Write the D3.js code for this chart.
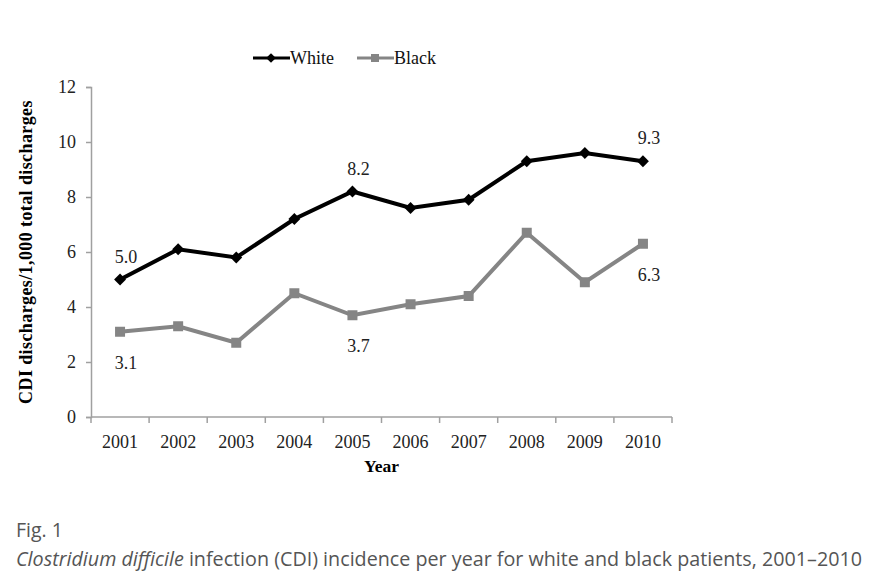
<!DOCTYPE html>
<html>
<head>
<meta charset="utf-8">
<script src="https://cdn.jsdelivr.net/npm/d3@7"></script>
<style>
  body { margin: 0; background: #fff; }
  svg { display: block; }
</style>
</head>
<body>
<svg id="chart" width="882" height="588"></svg>
<script>
// --- data ---
const years = ['2001', '2002', '2003', '2004', '2005', '2006', '2007', '2008', '2009', '2010'];
const white = [5.0, 6.1, 5.8, 7.2, 8.2, 7.6, 7.9, 9.3, 9.6, 9.3];
const black = [3.1, 3.3, 2.7, 4.5, 3.7, 4.1, 4.4, 6.7, 4.9, 6.3];
const yTicks = [0, 2, 4, 6, 8, 10, 12];
// labelled points: [year index, above(-1)/below(1)]
const whiteLabels = [[0, -1], [4, -1], [9, -1]];
const blackLabels = [[0, 1], [4, 1], [9, 1]];

const svg = d3.select('#chart');
const margin = { left: 91, right: 210, top: 87, bottom: 171 };
const width = 882, height = 588;

const x = d3.scaleBand().domain(years).range([margin.left, width - margin.right]);
const y = d3.scaleLinear().domain([0, 12]).range([height - margin.bottom, margin.top]);

const serif = '"Liberation Serif", "Times New Roman", serif';
const axisColor = '#a0a0a0';

// --- y axis ---
const yAxis = svg.append('g')
  .attr('transform', `translate(${margin.left},0)`)
  .call(d3.axisLeft(y).tickValues(yTicks).tickSize(5).tickPadding(10));
yAxis.select('.domain').attr('stroke', axisColor).attr('stroke-width', 1.5);
yAxis.selectAll('.tick line').attr('stroke', axisColor).attr('stroke-width', 1.5);
yAxis.selectAll('.tick text')
  .attr('font-family', serif).attr('font-size', 18).attr('fill', '#222');

// --- x axis (ticks between categories) ---
const xAxisG = svg.append('g').attr('transform', `translate(0,${y(0)})`);
xAxisG.append('line')
  .attr('x1', margin.left).attr('x2', width - margin.right)
  .attr('stroke', axisColor).attr('stroke-width', 1.5);
const bounds = years.map(d => x(d)).concat([x(years[years.length - 1]) + x.bandwidth()]);
xAxisG.selectAll('line.tk').data(bounds).join('line')
  .attr('class', 'tk')
  .attr('x1', d => d).attr('x2', d => d)
  .attr('y1', 0).attr('y2', 6)
  .attr('stroke', axisColor).attr('stroke-width', 1.5);
xAxisG.selectAll('text').data(years).join('text')
  .attr('x', d => x(d) + x.bandwidth() / 2)
  .attr('y', 31)
  .attr('text-anchor', 'middle')
  .attr('font-family', serif).attr('font-size', 18).attr('fill', '#222')
  .text(d => d);

// --- axis titles ---
svg.append('text')
  .attr('x', x('2005') + x.bandwidth())
  .attr('y', 472)
  .attr('text-anchor', 'middle')
  .attr('font-family', serif).attr('font-size', 17.5).attr('font-weight', 'bold')
  .text('Year');

svg.append('text')
  .attr('transform', `translate(32,${(y(0) + y(12)) / 2}) rotate(-90)`)
  .attr('text-anchor', 'middle')
  .attr('font-family', serif).attr('font-size', 18).attr('font-weight', 'bold')
  .attr('letter-spacing', 0.4)
  .text('CDI discharges/1,000 total discharges');

// --- series ---
const cx = i => x(years[i]) + x.bandwidth() / 2;
const line = d3.line().x((d, i) => cx(i)).y(d => y(d));

svg.append('path').datum(black)
  .attr('d', line).attr('fill', 'none')
  .attr('stroke', '#858585').attr('stroke-width', 4);
svg.selectAll('rect.blk').data(black).join('rect')
  .attr('class', 'blk')
  .attr('x', (d, i) => cx(i) - 5).attr('y', d => y(d) - 5)
  .attr('width', 10).attr('height', 10)
  .attr('fill', '#858585');

svg.append('path').datum(white)
  .attr('d', line).attr('fill', 'none')
  .attr('stroke', '#000').attr('stroke-width', 4);
const diamond = d3.symbol().type(d3.symbolDiamond2).size(90);
svg.selectAll('path.wht').data(white).join('path')
  .attr('class', 'wht')
  .attr('transform', (d, i) => `translate(${cx(i)},${y(d)})`)
  .attr('d', diamond)
  .attr('fill', '#000');

// --- data labels ---
function addLabels(series, list) {
  svg.selectAll(null).data(list).join('text')
    .attr('x', d => cx(d[0]) + 6)
    .attr('y', d => y(series[d[0]]) + (d[1] < 0 ? -17 : 37))
    .attr('text-anchor', 'middle')
    .attr('font-family', serif).attr('font-size', 18).attr('fill', '#222')
    .text(d => series[d[0]].toFixed(1));
}
addLabels(white, whiteLabels);
addLabels(black, blackLabels);

// --- legend ---
const legend = svg.append('g').attr('font-family', serif).attr('font-size', 18);
const lg = [
  { name: 'White', color: '#000', x: 253, sym: 'diamond' },
  { name: 'Black', color: '#858585', x: 357, sym: 'square' },
];
lg.forEach(d => {
  legend.append('line')
    .attr('x1', d.x).attr('x2', d.x + 37).attr('y1', 58).attr('y2', 58)
    .attr('stroke', d.color).attr('stroke-width', 3);
  if (d.sym === 'diamond') {
    legend.append('path')
      .attr('transform', `translate(${d.x + 18},58)`)
      .attr('d', d3.symbol().type(d3.symbolDiamond2).size(60))
      .attr('fill', d.color);
  } else {
    legend.append('rect')
      .attr('x', d.x + 14).attr('y', 54).attr('width', 8).attr('height', 8)
      .attr('fill', d.color);
  }
  legend.append('text')
    .attr('x', d.x + 37).attr('y', 64)
    .attr('fill', '#111')
    .text(d.name);
});

// --- caption ---
const sans = '"Open Sans", sans-serif';
svg.append('text')
  .attr('x', 16).attr('y', 537)
  .attr('font-family', sans).attr('font-size', 19.5).attr('fill', '#555')
  .text('Fig. 1');
const cap = svg.append('text')
  .attr('x', 16).attr('y', 566)
  .attr('font-family', sans).attr('font-size', 19.5).attr('fill', '#555')
  .attr('textLength', 846).attr('lengthAdjust', 'spacingAndGlyphs');
cap.append('tspan').attr('font-style', 'italic').text('Clostridium difficile');
cap.append('tspan').text(' infection (CDI) incidence per year for white and black patients, 2001–2010');
</script>
</body>
</html>
